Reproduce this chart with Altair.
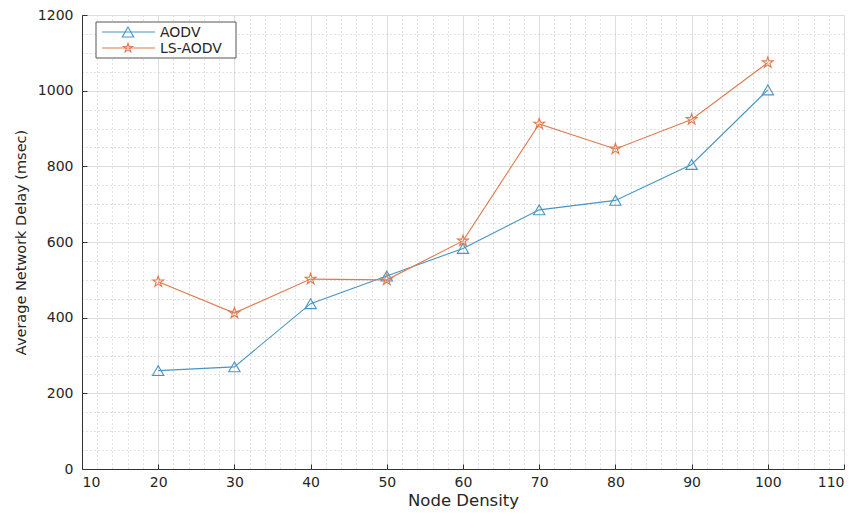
import altair as alt
import pandas as pd

node_density = [20, 30, 40, 50, 60, 70, 80, 90, 100]
aodv = [260, 270, 437, 510, 583, 685, 710, 805, 1002]
ls_aodv = [495, 412, 502, 500, 603, 912, 846, 924, 1074]
series_names = ["AODV", "LS-AODV"]
x_major = [10, 20, 30, 40, 50, 60, 70, 80, 90, 100, 110]
y_major = [0, 200, 400, 600, 800, 1000, 1200]
x_minor = [v for v in range(12, 110, 2) if v % 10 != 0]
y_minor = [v for v in range(50, 1200, 50) if v % 200 != 0]

COLORS = ["#4795c4", "#e07a4f"]
STAR = "M0,-1L0.2245,-0.309L0.951,-0.309L0.363,0.118L0.588,0.809L0,0.382L-0.588,0.809L-0.363,0.118L-0.951,-0.309L-0.2245,-0.309Z"
SHAPES = ["triangle-up", STAR]
FONT = "DejaVu Sans"
TXT = "#262626"
W, H = 762, 454

rows = []
for name, vals in zip(series_names, [aodv, ls_aodv]):
    for x, y in zip(node_density, vals):
        rows.append({"density": x, "delay": y, "series": name})
df = pd.DataFrame(rows)
one = pd.DataFrame({"k": [0]})

xs = alt.Scale(domain=[10, 110], nice=False, zero=False)
ys = alt.Scale(domain=[0, 1200], nice=False, zero=False)

base = alt.Chart(df)

minor = base.mark_point(opacity=0).encode(
    x=alt.X("density:Q", scale=xs, axis=alt.Axis(values=x_minor, grid=True, gridDash=[1, 3],
            gridColor="#b8b8b8", gridWidth=0.8, labels=False, ticks=False, domain=False, title=None)),
    y=alt.Y("delay:Q", scale=ys, axis=alt.Axis(values=y_minor, grid=True, gridDash=[1, 3],
            gridColor="#b8b8b8", gridWidth=0.8, labels=False, ticks=False, domain=False, title=None)),
)

major = base.mark_point(opacity=0).encode(
    x=alt.X("density:Q", scale=xs, axis=alt.Axis(values=x_major, format="d", grid=True, gridColor="#dedede",
            gridWidth=1, ticks=False, domain=True, domainColor="#333333", domainWidth=1,
            labelFont=FONT, labelFontSize=14, labelColor=TXT, labelPadding=6,
            title="Node Density", titleFont=FONT, titleFontSize=16.5, titleFontWeight="normal",
            titleColor=TXT, titlePadding=3, orient="bottom")),
    y=alt.Y("delay:Q", scale=ys, axis=alt.Axis(values=y_major, format="d", grid=True, gridColor="#dedede",
            gridWidth=1, ticks=False, domain=True, domainColor="#333333", domainWidth=1,
            labelFont=FONT, labelFontSize=14, labelColor=TXT, labelPadding=9,
            title="Average Network Delay (msec)", titleFont=FONT, titleFontSize=14.5,
            titleFontWeight="normal", titleColor=TXT, titlePadding=9, orient="left")),
)

inticks = base.mark_point(opacity=0).encode(
    x=alt.X("density:Q", scale=xs, axis=alt.Axis(values=x_major, grid=False, labels=False,
            domain=False, ticks=True, tickSize=5, tickColor="#333333", title=None,
            orient="top", offset=-H)),
    y=alt.Y("delay:Q", scale=ys, axis=alt.Axis(values=y_major, grid=False, labels=False,
            domain=False, ticks=True, tickSize=5, tickColor="#333333", title=None,
            orient="right", offset=-W)),
)

color = alt.Color("series:N", scale=alt.Scale(domain=series_names, range=COLORS), legend=None)
shape = alt.Shape("series:N", scale=alt.Scale(domain=series_names, range=SHAPES), legend=None)

lines = base.mark_line(strokeWidth=1.1).encode(
    x=alt.X("density:Q", scale=xs, axis=None),
    y=alt.Y("delay:Q", scale=ys, axis=None),
    color=color,
    detail="series:N",
)
points = base.mark_point(filled=False, strokeWidth=1.1, opacity=1).encode(
    x=alt.X("density:Q", scale=xs, axis=None),
    y=alt.Y("delay:Q", scale=ys, axis=None),
    color=color,
    shape=shape,
    size=alt.value(130),
)

# custom legend (decoration)
legend_layers = [
    alt.Chart(one).mark_rect(fill="white", stroke="#444444", strokeWidth=0.9).encode(
        x=alt.value(14), x2=alt.value(154), y=alt.value(7), y2=alt.value(43))
]
for i, name in enumerate(series_names):
    yy = 17 + 16 * i
    legend_layers.append(alt.Chart(one).mark_rule(color=COLORS[i], strokeWidth=1.1).encode(
        x=alt.value(20), x2=alt.value(73), y=alt.value(yy)))
    legend_layers.append(alt.Chart(one).mark_point(filled=False, strokeWidth=1.1, color=COLORS[i],
        shape=SHAPES[i], size=130 if i == 0 else 90, opacity=1).encode(
        x=alt.value(46), y=alt.value(yy)))
    legend_layers.append(alt.Chart(one).mark_text(text=name, align="left", baseline="middle",
        font=FONT, fontSize=14, color=TXT).encode(x=alt.value(78), y=alt.value(yy + 1)))

chart = alt.layer(minor, major, inticks, lines, points, *legend_layers).resolve_axis(
    x="independent", y="independent"
).properties(
    width=W, height=H, autosize=alt.AutoSizeParams(type="none"),
    padding={"left": 74, "top": 7, "right": 10, "bottom": 46},
).configure_view(stroke=None).configure(background="white")

chart.save("out.html", embed_options={"renderer": "svg", "actions": False})
